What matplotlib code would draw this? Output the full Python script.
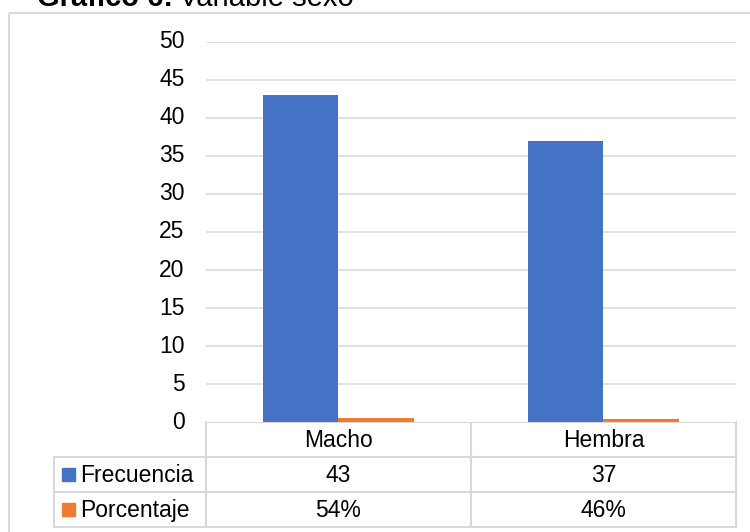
import matplotlib
matplotlib.use("Agg")
import matplotlib.pyplot as plt
import matplotlib.transforms as mtransforms
from matplotlib.patches import Rectangle

plt.rcParams['font.family'] = ['Liberation Sans', 'DejaVu Sans']

categorias = ["Macho", "Hembra"]
frecuencia = [43, 37]
porcentaje = [0.54, 0.46]
series = ["Frecuencia", "Porcentaje"]
colores = ["#4472C4", "#ED7D31"]
yticks = [0, 5, 10, 15, 20, 25, 30, 35, 40, 45, 50]

W, H = 750, 532
fig = plt.figure(figsize=(W / 100, H / 100), dpi=100)
fs = 16.5

# overlay in pixel coords (y down)
ov = fig.add_axes([0, 0, 1, 1])
ov.set_xlim(0, W)
ov.set_ylim(H, 0)
ov.axis("off")

# plot area in pixels
x0, x1 = 205.7, 736.0
ytop, ybot = 41.7, 422.3
ax = fig.add_axes([x0 / W, 1 - ybot / H, (x1 - x0) / W, (ybot - ytop) / H])
ax.set_xlim(-0.5, 1.5)
ax.set_ylim(0, 50)
for s in ax.spines.values():
    s.set_visible(False)
ax.set_xticks([])
ax.set_yticks(yticks[1:])
ax.set_yticklabels([])
ax.tick_params(axis="y", length=0)
ax.grid(axis="y", color="#D9D9D9", lw=1.1)
ax.set_axisbelow(True)

w = 0.285
xs = list(range(len(categorias)))
ax.bar([x - w / 2 for x in xs], frecuencia, w, color=colores[0], zorder=3)
ax.bar([x + w / 2 for x in xs], porcentaje, w, color=colores[1], zorder=3)

# y tick labels, right edge ~21 px left of plot area
tt = mtransforms.blended_transform_factory(ov.transData, ax.transData)
for t in yticks:
    ov.text(x0 - 21, t, str(t), transform=tt, ha="right", va="center",
            fontsize=fs, color="black", clip_on=False)

# table, x from data coords, y in pixels
bt = mtransforms.blended_transform_factory(ax.transData, ov.transData)
gc = "#D9D9D9"
lw = 1.5
rows = [422.3, 456.8, 491.8, 527.0]
tleft = 54.3
ov.plot([-0.5, 1.5], [rows[0]] * 2, transform=bt, color=gc, lw=lw, clip_on=False)
for r in rows[1:]:
    ov.plot([tleft, x1], [r, r], color=gc, lw=lw, clip_on=False)
ov.plot([tleft, tleft], [rows[1], rows[3]], color=gc, lw=lw, clip_on=False)
for xb in [-0.5, 0.5, 1.5]:
    ov.plot([xb, xb], [rows[0], rows[3]], transform=bt, color=gc, lw=lw, clip_on=False)

for i, c in enumerate(categorias):
    ov.text(i, (rows[0] + rows[1]) / 2 + 1, c, transform=bt, ha="center", va="center", fontsize=fs)
    ov.text(i, (rows[1] + rows[2]) / 2 + 1, str(frecuencia[i]), transform=bt, ha="center", va="center", fontsize=fs)
    ov.text(i, (rows[2] + rows[3]) / 2 + 1, f"{porcentaje[i]:.0%}", transform=bt, ha="center", va="center", fontsize=fs)

for j, name in enumerate(series):
    yc = (rows[j + 1] + rows[j + 2]) / 2
    ov.add_patch(Rectangle((62, yc - 6.5), 13, 13, color=colores[j]))
    ov.text(80, yc + 1, name, ha="left", va="center", fontsize=fs)

# outer frame
ov.add_patch(Rectangle((9, 12.5), 760, 540, fill=False, ec=gc, lw=1.5, clip_on=False))

# title (cut at top, as in the source)
t1 = ov.text(37, 5.5, "Gráfico 6:", fontsize=21, fontweight="bold", ha="left", va="baseline")
r = fig.canvas.get_renderer()
bb = t1.get_window_extent(r)
ov.text(37 + bb.width + 6, 5.5, "Variable sexo", fontsize=21, ha="left", va="baseline")

fig.savefig("out.png", dpi=100)
